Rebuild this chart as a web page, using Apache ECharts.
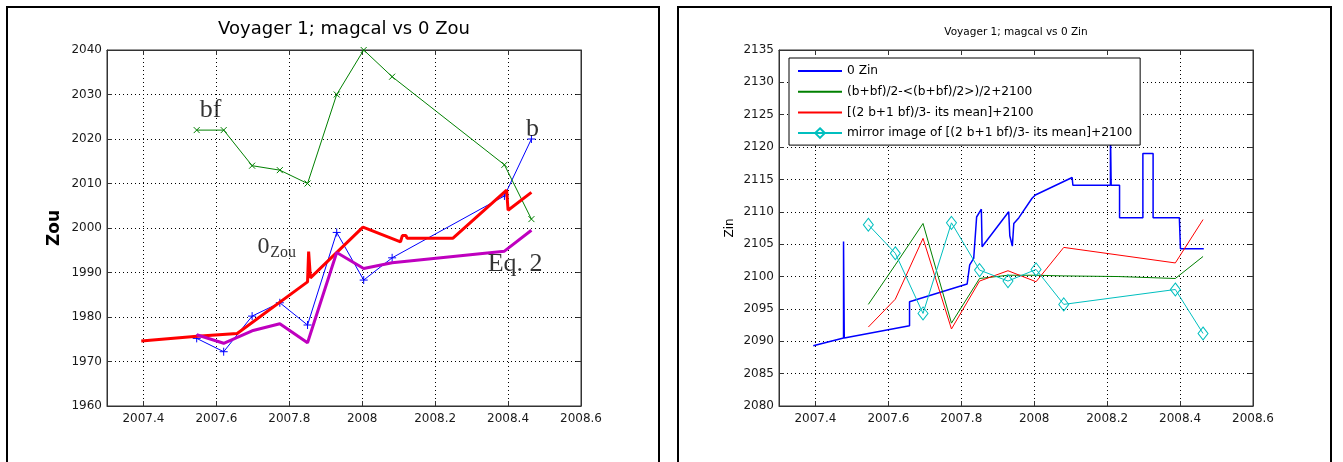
<!DOCTYPE html>
<html><head><meta charset="utf-8">
<script src="https://cdn.jsdelivr.net/npm/echarts@6/dist/echarts.min.js"></script>
<style>html,body{margin:0;padding:0;background:#fff}#c{width:1343px;height:462px}</style>
</head><body><div id="c"></div>
<script>
// ---------- Left panel: Voyager 1; magcal vs 0 Zou ----------
const leftX = [2007.546, 2007.620, 2007.698, 2007.774, 2007.850, 2007.930, 2008.004, 2008.082, 2008.390, 2008.464];
const bfZou = [2022.0, 2022.0, 2014.0, 2013.0, 2010.0, 2030.0, 2040.0, 2034.0, 2014.2, 2002.0];
const bZou  = [1975.2, 1972.2, 1980.2, 1983.2, 1978.2, 1999.0, 1988.3, 1993.3, 2007.2, 2020.0];
const eq2Zou = [1976.0, 1974.1, 1976.9, 1978.5, 1974.2, 1994.5, 1990.9, 1992.2, 1994.8, 1999.5];
const zou0X = [2007.394, 2007.547, 2007.657, 2007.850, 2007.853, 2007.856, 2007.858, 2008.002, 2008.105, 2008.110, 2008.120, 2008.123, 2008.249, 2008.396, 2008.400, 2008.464];
const zou0Y = [1974.6, 1975.7, 1976.3, 1987.9, 1994.7, 1994.7, 1988.8, 2000.2, 1996.9, 1998.3, 1998.3, 1997.7, 1997.7, 2008.5, 2004.0, 2008.0];
const annoText = ['bf', 'b', '0', 'Zou', 'Eq. 2'];
const annoX = [2007.584, 2008.467, 2007.713, 2007.748, 2008.344];
const annoY = [2023.5, 2019.3, 1993.2, 1992.7, 1989.0];

// ---------- Right panel: Voyager 1; magcal vs 0 Zin ----------
const zinX = [2007.394, 2007.477, 2007.477, 2007.479, 2007.479, 2007.480, 2007.658, 2007.658, 2007.816, 2007.823, 2007.834, 2007.842, 2007.855, 2007.857, 2007.930, 2007.933, 2007.940, 2007.944, 2007.958, 2007.994, 2008.003, 2008.104, 2008.106, 2008.209, 2008.209, 2008.211, 2008.234, 2008.234, 2008.298, 2008.298, 2008.326, 2008.326, 2008.398, 2008.401, 2008.465];
const zinY = [2089.3, 2090.5, 2105.4, 2105.4, 2090.5, 2090.5, 2092.4, 2096.1, 2098.85, 2101.8, 2102.8, 2109.2, 2110.4, 2104.6, 2110.0, 2106.3, 2104.7, 2108.2, 2109.1, 2112.1, 2112.6, 2115.3, 2114.1, 2114.1, 2123.0, 2114.1, 2114.1, 2109.1, 2109.1, 2119.0, 2119.0, 2109.1, 2109.1, 2104.3, 2104.3];
const avgX = [2007.545, 2007.619, 2007.695, 2007.773, 2007.850, 2007.928, 2008.005, 2008.081, 2008.230, 2008.387, 2008.463];
const avgY = [2095.7, 2101.8, 2108.2, 2092.8, 2099.7, 2100.2, 2100.2, 2100.1, 2100.0, 2099.7, 2103.1];
const rightX = [2007.545, 2007.619, 2007.695, 2007.773, 2007.850, 2007.928, 2008.005, 2008.081, 2008.387, 2008.463];
const wY = [2092.2, 2096.5, 2105.9, 2091.9, 2099.3, 2100.9, 2099.2, 2104.5, 2102.1, 2108.8];
const mirrorY = [2108.0, 2103.6, 2094.3, 2108.3, 2101.0, 2099.3, 2101.1, 2095.7, 2098.0, 2091.2];
const legendNames = ['0 Zin', '(b+bf)/2-<(b+bf)/2>)/2+2100', '[(2 b+1 bf)/3- its mean]+2100', 'mirror image of [(2 b+1 bf)/3- its mean]+2100'];

const xTicksMin = 2007.3, xTicksMax = 2008.6;

function zip(xs, ys) { return xs.map((x, i) => [x, ys[i]]); }

const FONT = '"DejaVu Sans", Verdana, sans-serif';
const SERIF = '"Liberation Serif", "Times New Roman", serif';
const AX = '#333';
const TXT = '#1a1a1a';

function xAxes(g) {
  const base = { type: 'value', gridIndex: g, min: xTicksMin, max: xTicksMax, splitNumber: 6 };
  return [
    Object.assign({}, base, {
      position: 'bottom',
      axisLine: { onZero: false, lineStyle: { color: AX, width: 1 } },
      axisTick: { inside: true, length: 5, lineStyle: { color: AX } },
      axisLabel: { color: TXT, fontFamily: FONT, fontSize: 12, margin: 7,
        formatter: v => (Math.abs(v * 5 - Math.round(v * 5)) < 1e-6 ? String(+(+v).toFixed(1)) : '') },
      splitLine: { show: true, lineStyle: { color: '#000', type: [1, 3], width: 1 } }
    }),
    Object.assign({}, base, {
      position: 'top',
      axisLine: { onZero: false, lineStyle: { color: AX, width: 1 } },
      axisTick: { inside: true, length: 5, lineStyle: { color: AX } },
      axisLabel: { show: false },
      splitLine: { show: false }
    })
  ];
}
function yAxes(g, min, max, interval, name, nameSize, bold, gap) {
  const base = { type: 'value', gridIndex: g, min, max, interval };
  return [
    Object.assign({}, base, {
      position: 'left',
      name, nameLocation: 'middle', nameGap: gap, nameRotate: 90,
      nameTextStyle: { fontFamily: FONT, fontSize: nameSize, fontWeight: bold ? 'bold' : 'normal', color: '#000' },
      axisLine: { onZero: false, lineStyle: { color: AX, width: 1 } },
      axisTick: { inside: true, length: 5, lineStyle: { color: AX } },
      axisLabel: { color: TXT, fontFamily: FONT, fontSize: 12, margin: 5, formatter: v => String(Math.round(v)) },
      splitLine: { show: true, lineStyle: { color: '#000', type: [1, 3], width: 1 } }
    }),
    Object.assign({}, base, {
      position: 'right',
      axisLine: { onZero: false, lineStyle: { color: AX, width: 1 } },
      axisTick: { inside: true, length: 5, lineStyle: { color: AX } },
      axisLabel: { show: false },
      splitLine: { show: false }
    })
  ];
}

const X_SYM = 'path://M0,0L10,10M10,0L0,10';
const PLUS_SYM = 'path://M5,0L5,10M0,5L10,5';

const annoStyle = [
  { fontSize: 26, align: 'center' },
  { fontSize: 26, align: 'center' },
  { fontSize: 24, align: 'left' },
  { fontSize: 16, align: 'left' },
  { fontSize: 26, align: 'left' }
];

const series = [
  { name: 'b', type: 'line', xAxisIndex: 0, yAxisIndex: 0, data: zip(leftX, bZou),
    symbol: PLUS_SYM, symbolSize: 8, showSymbol: true,
    lineStyle: { color: '#0000FF', width: 1 },
    itemStyle: { color: '#0000FF', borderColor: '#0000FF', borderWidth: 1 }, z: 2 },
  { name: 'bf', type: 'line', xAxisIndex: 0, yAxisIndex: 0, data: zip(leftX, bfZou),
    symbol: X_SYM, symbolSize: 6, showSymbol: true,
    lineStyle: { color: '#008000', width: 1 },
    itemStyle: { color: '#008000', borderColor: '#008000', borderWidth: 1 }, z: 3 },
  { name: '0 Zou', type: 'line', xAxisIndex: 0, yAxisIndex: 0, data: zip(zou0X, zou0Y),
    symbol: 'none', lineStyle: { color: '#FF0000', width: 3 }, z: 4 },
  { name: 'Eq. 2', type: 'line', xAxisIndex: 0, yAxisIndex: 0, data: zip(leftX, eq2Zou),
    symbol: 'none', lineStyle: { color: '#BF00BF', width: 3 }, z: 5 },
  { name: 'annotations', type: 'scatter', xAxisIndex: 0, yAxisIndex: 0, silent: true, clip: false,
    symbolSize: 1, itemStyle: { color: 'rgba(0,0,0,0)' }, z: 6,
    data: annoText.map((t, i) => ({
      value: [annoX[i], annoY[i]],
      label: { show: true, position: 'inside', formatter: t, color: '#000', fontFamily: SERIF,
        fontSize: annoStyle[i].fontSize, align: annoStyle[i].align, verticalAlign: 'bottom' }
    })) },

  { name: legendNames[0], type: 'line', xAxisIndex: 2, yAxisIndex: 2, data: zip(zinX, zinY),
    symbol: 'none', lineStyle: { color: '#0000FF', width: 1.5 }, itemStyle: { color: '#0000FF' }, z: 2 },
  { name: legendNames[1], type: 'line', xAxisIndex: 2, yAxisIndex: 2, data: zip(avgX, avgY),
    symbol: 'none', lineStyle: { color: '#008000', width: 1 }, itemStyle: { color: '#008000' }, z: 3 },
  { name: legendNames[2], type: 'line', xAxisIndex: 2, yAxisIndex: 2, data: zip(rightX, wY),
    symbol: 'none', lineStyle: { color: '#FF0000', width: 1 }, itemStyle: { color: '#FF0000' }, z: 4 },
  { name: legendNames[3], type: 'line', xAxisIndex: 2, yAxisIndex: 2, data: zip(rightX, mirrorY),
    symbol: 'diamond', symbolSize: [10, 13], showSymbol: true,
    lineStyle: { color: '#00BFBF', width: 1 },
    itemStyle: { color: 'rgba(255,255,255,0)', borderColor: '#00BFBF', borderWidth: 1 }, z: 5 }
];

const chart = echarts.init(document.getElementById('c'), null, { renderer: 'canvas' });
chart.setOption({
  animation: false,
  backgroundColor: '#fff',
  title: [
    { text: 'Voyager 1; magcal vs 0 Zou', left: 344, top: 20, textAlign: 'center', padding: 0,
      textStyle: { fontFamily: FONT, fontSize: 18, fontWeight: 'normal', color: '#000' } },
    { text: 'Voyager 1; magcal vs 0 Zin', left: 1016, top: 27, textAlign: 'center', padding: 0,
      textStyle: { fontFamily: FONT, fontSize: 10.5, fontWeight: 'normal', color: '#000' } }
  ],
  grid: [
    { left: 107, top: 50, width: 474, height: 356, show: true, borderColor: AX, borderWidth: 1, backgroundColor: '#fff', outerBoundsMode: 'none' },
    { left: 779, top: 50, width: 474, height: 356, show: true, borderColor: AX, borderWidth: 1, backgroundColor: '#fff', outerBoundsMode: 'none' }
  ],
  xAxis: [...xAxes(0), ...xAxes(1)],
  yAxis: [...yAxes(0, 1960, 2040, 10, 'Zou', 17, true, 44), ...yAxes(1, 2080, 2135, 5, 'Zin', 12, false, 43)],
  legend: {
    data: legendNames.map((n, i) => (i < 3 ? { name: n, itemStyle: { opacity: 0 } } : { name: n })),
    orient: 'vertical', left: 789, top: 58,
    padding: [7, 8, 6, 8], itemGap: 8.7, itemWidth: 44, itemHeight: 12,
    backgroundColor: '#fff', borderColor: '#000', borderWidth: 1, borderRadius: 0,
    selectedMode: false, z: 20,
    textStyle: { fontFamily: FONT, fontSize: 12.2, color: '#000' }
  },
  graphic: [
    { type: 'rect', silent: true, z: 100, shape: { x: 7, y: 7, width: 652, height: 480 },
      style: { fill: 'none', stroke: '#000', lineWidth: 2 } },
    { type: 'rect', silent: true, z: 100, shape: { x: 678, y: 7, width: 653, height: 480 },
      style: { fill: 'none', stroke: '#000', lineWidth: 2 } }
  ],
  series
});
</script>
</body></html>
